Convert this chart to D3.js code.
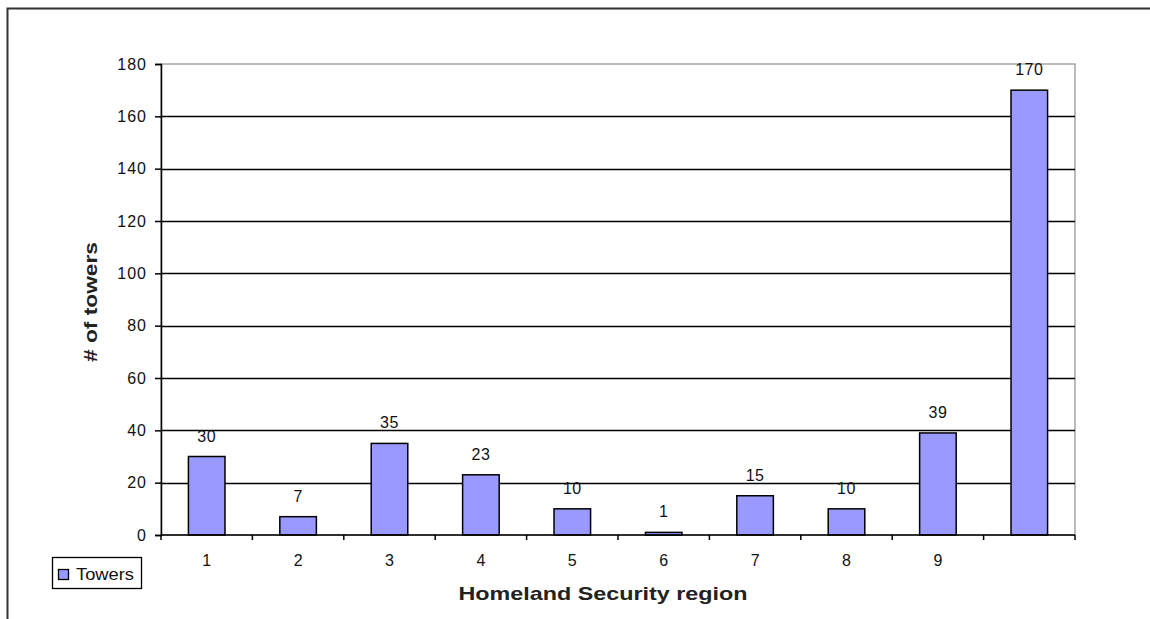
<!DOCTYPE html>
<html><head><meta charset="utf-8">
<script src="https://cdn.jsdelivr.net/npm/d3@7"></script>
<style>body{margin:0;background:#fff}svg{display:block}text{font-family:"Liberation Sans",Arial,sans-serif}</style>
</head><body><svg id="c" width="1150" height="619"></svg>
<script>
const categories = ["1","2","3","4","5","6","7","8","9",""];
const towers = [30,7,35,23,10,1,15,10,39,170];
const yTicks = [0,20,40,60,80,100,120,140,160,180];
const seriesName = "Towers";

const svg = d3.select("#c");
const L=161,T=64,R=1075,B=535;
svg.append("rect").attr("x",7.5).attr("y",8.5).attr("width",1200).attr("height",700)
  .attr("fill","none").attr("stroke","#333").attr("stroke-width",2);

const x = d3.scaleBand().domain(d3.range(categories.length)).range([L,R]).paddingInner(0.6).paddingOuter(0.3);
const xb = d3.scaleBand().domain(d3.range(categories.length)).range([L,R]);
const y = d3.scaleLinear().domain([0,180]).range([B,T]);

// plot area border
svg.append("rect").attr("x",L).attr("y",T).attr("width",R-L).attr("height",B-T)
  .attr("fill","none").attr("stroke","#999").attr("stroke-width",1.3);
// gridlines
svg.append("g").selectAll("line").data(yTicks.filter(d=>d>0&&d<180)).join("line")
  .attr("x1",L).attr("x2",R).attr("y1",d=>Math.round(y(d))+0.5).attr("y2",d=>Math.round(y(d))+0.5)
  .attr("stroke","#000").attr("stroke-width",1.3);

// bars
svg.append("g").selectAll("rect").data(towers).join("rect")
  .attr("x",(d,i)=>x(i)).attr("width",x.bandwidth())
  .attr("y",d=>y(d)).attr("height",d=>B-y(d))
  .attr("fill","#9999ff").attr("stroke","#000").attr("stroke-width",1.5);

// value labels
svg.append("g").selectAll("text").data(towers).join("text")
  .attr("x",(d,i)=>x(i)+x.bandwidth()/2).attr("y",d=>y(d)-15)
  .attr("text-anchor","middle").attr("font-size",16).attr("letter-spacing",0.5).attr("fill","#111").text(d=>d);

// y axis
const ya = d3.axisLeft(y).tickValues(yTicks).tickSize(6).tickPadding(8);
const gy = svg.append("g").attr("transform",`translate(${L},0)`).call(ya);
gy.select(".domain").attr("stroke","#000").attr("stroke-width",1.5);
gy.selectAll(".tick line").attr("stroke","#000").attr("stroke-width",1.5);
gy.selectAll(".tick text").attr("font-size",16).attr("letter-spacing",1).attr("fill","#111").attr("font-family","Liberation Sans, Arial, sans-serif");

// x axis
const xa = d3.axisBottom(xb).tickSize(0).tickPadding(20).tickFormat(i=>categories[i]);
const gx = svg.append("g").attr("transform",`translate(0,${B})`).call(xa);
gx.select(".domain").remove();
gx.selectAll(".tick text").attr("font-size",16).attr("fill","#111").attr("font-family","Liberation Sans, Arial, sans-serif");
svg.append("line").attr("x1",L).attr("x2",R).attr("y1",B).attr("y2",B).attr("stroke","#000").attr("stroke-width",1.5);
svg.append("g").selectAll("line").data(d3.range(categories.length+1)).join("line")
  .attr("x1",i=>i<categories.length?xb(i):R).attr("x2",i=>i<categories.length?xb(i):R)
  .attr("y1",B).attr("y2",B+5).attr("stroke","#000").attr("stroke-width",1.5);

// axis titles
svg.append("text").attr("x",603).attr("y",600).attr("text-anchor","middle")
  .attr("font-size",19).attr("font-weight","bold").attr("fill","#222")
  .attr("textLength",289).attr("lengthAdjust","spacingAndGlyphs").text("Homeland Security region");
svg.append("text").attr("transform","translate(97,302) rotate(-90)").attr("text-anchor","middle")
  .attr("font-size",19).attr("font-weight","bold").attr("fill","#222")
  .attr("textLength",120).attr("lengthAdjust","spacingAndGlyphs").text("# of towers");

// legend
svg.append("rect").attr("x",52.5).attr("y",557.5).attr("width",89).attr("height",31)
  .attr("fill","#fff").attr("stroke","#000").attr("stroke-width",1.3);
svg.append("rect").attr("x",58.5).attr("y",569.5).attr("width",10).attr("height",10)
  .attr("fill","#9999ff").attr("stroke","#000").attr("stroke-width",1.3);
svg.append("text").attr("x",76).attr("y",580).attr("font-size",16).attr("fill","#111")
  .attr("textLength",58).attr("lengthAdjust","spacingAndGlyphs").text(seriesName);
</script></body></html>
